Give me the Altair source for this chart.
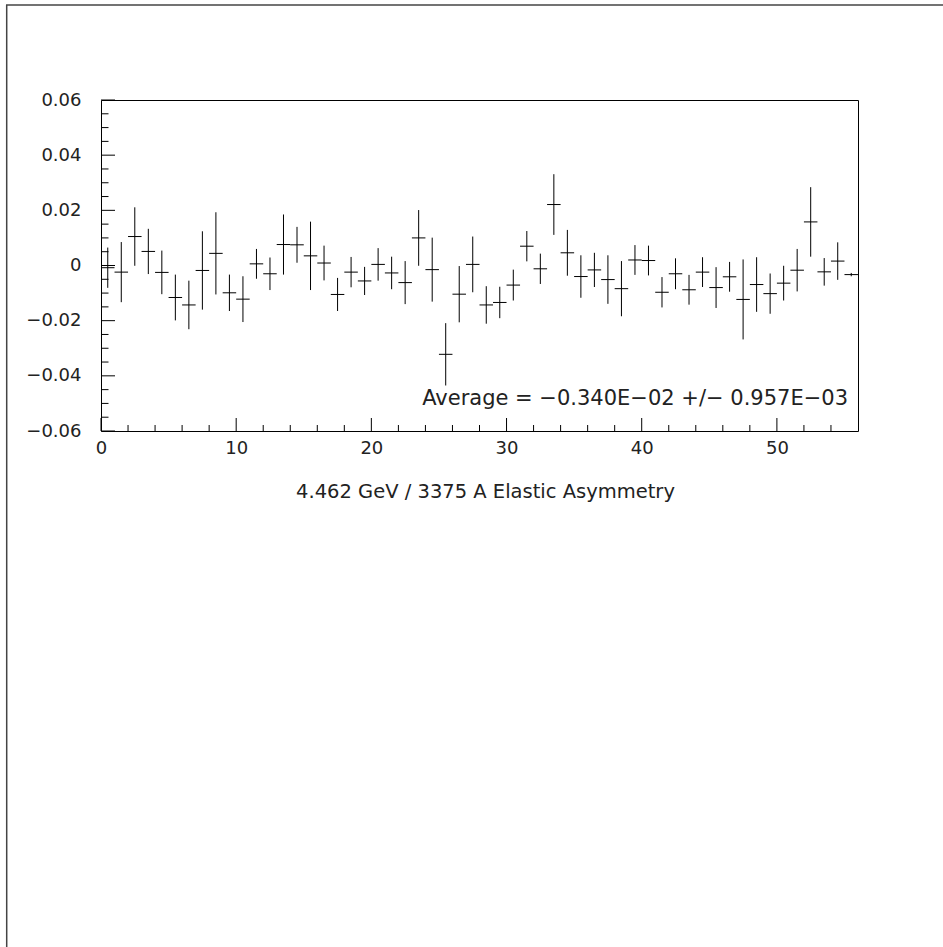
import altair as alt
import pandas as pd

# ---- data ----
bins = list(range(56))
asym = [-0.0008, -0.0024, 0.0105, 0.0051, -0.0025, -0.0116, -0.0143, -0.0018, 0.0044, -0.0099,
        -0.0122, 0.0006, -0.0030, 0.0076, 0.0075, 0.0035, 0.0009, -0.0105, -0.0024, -0.0056,
        0.0004, -0.0027, -0.0062, 0.0100, -0.0015, -0.0322, -0.0104, 0.0004, -0.0143, -0.0134,
        -0.0071, 0.0070, -0.0012, 0.0221, 0.0046, -0.0040, -0.0016, -0.0051, -0.0084, 0.0020,
        0.0018, -0.0097, -0.0030, -0.0088, -0.0024, -0.0080, -0.0041, -0.0123, -0.0069, -0.0102,
        -0.0064, -0.0017, 0.0158, -0.0023, 0.0016, -0.0033]
errs = [0.0073, 0.0109, 0.0106, 0.0082, 0.0079, 0.0083, 0.0088, 0.0142, 0.0149, 0.0066,
        0.0083, 0.0054, 0.0059, 0.0109, 0.0065, 0.0124, 0.0063, 0.0060, 0.0055, 0.0051,
        0.0059, 0.0059, 0.0078, 0.0101, 0.0116, 0.0113, 0.0102, 0.0101, 0.0068, 0.0057,
        0.0056, 0.0055, 0.0055, 0.0110, 0.0083, 0.0077, 0.0062, 0.0088, 0.0100, 0.0054,
        0.0054, 0.0055, 0.0056, 0.0054, 0.0054, 0.0074, 0.0054, 0.0145, 0.0099, 0.0073,
        0.0063, 0.0077, 0.0126, 0.0050, 0.0068, 0.0006]

y_major = [-0.06, -0.04, -0.02, 0, 0.02, 0.04, 0.06]
y_minor = [-0.055, -0.05, -0.045, -0.035, -0.03, -0.025, -0.015, -0.01, -0.005,
           0.005, 0.01, 0.015, 0.025, 0.03, 0.035, 0.045, 0.05, 0.055]
x_major = [0, 10, 20, 30, 40, 50]
x_minor = [2, 4, 6, 8, 12, 14, 16, 18, 22, 24, 26, 28, 32, 34, 36, 38,
           42, 44, 46, 48, 52, 54]

x_title = "4.462 GeV / 3375 A Elastic Asymmetry"
avg_text = "Average =  \u22120.340E\u221202 +/\u2212 0.957E\u221203"

FONT = "DejaVu Sans"
TXT = "#222222"
W, H = 757, 331

df = pd.DataFrame({"bin": bins, "asym": asym, "err": errs})
xs = alt.Scale(domain=[0, 56], nice=False, zero=False)
ys = alt.Scale(domain=[-0.06, 0.06], nice=False, zero=False)

x_axis = alt.Axis(values=x_major, format="d", ticks=False, tickSize=0, domain=False,
                  grid=False, labelFont=FONT, labelFontSize=18, labelColor=TXT,
                  labelPadding=22, labelBaseline="alphabetic", labelFlush=False,
                  labelOverlap=False, title=x_title, titleFont=FONT, titleFontSize=19.5,
                  titleFontWeight="normal", titleColor=TXT, titleX=384, titleY=66,
                  titleBaseline="alphabetic", titleAlign="center", titleAnchor="start")
y_axis = alt.Axis(values=y_major, format=".2~f", ticks=False, tickSize=0, domain=False,
                  grid=False, labelFont=FONT, labelFontSize=18, labelColor=TXT,
                  labelPadding=20, labelBaseline="middle", labelFlush=False,
                  labelOverlap=False, title=None)


def X(field):
    return alt.X(field, scale=xs, axis=x_axis)


def Y(field):
    return alt.Y(field, scale=ys, axis=y_axis)


base = alt.Chart(df).transform_calculate(
    lo="datum.asym - datum.err",
    hi="datum.asym + datum.err",
    xl="datum.bin",
    xr="datum.bin + 1",
    xc="datum.bin + 0.5",
)

vbar = base.mark_rule(color="black", strokeWidth=1).encode(
    x=X("xc:Q"), y=Y("lo:Q"), y2="hi:Q")
hbar = base.mark_rule(color="black", strokeWidth=1).encode(
    x=X("xl:Q"), x2="xr:Q", y=Y("asym:Q"))

ymaj = alt.Chart(pd.DataFrame({"v": y_major})).mark_rule(color="black").encode(
    y=Y("v:Q"), x=alt.value(0), x2=alt.value(14))
ymin = alt.Chart(pd.DataFrame({"v": y_minor})).mark_rule(color="black").encode(
    y=Y("v:Q"), x=alt.value(0), x2=alt.value(7.5))
xmaj = alt.Chart(pd.DataFrame({"v": x_major})).mark_rule(color="black").encode(
    x=X("v:Q"), y=alt.value(H), y2=alt.value(H - 13))
xmin = alt.Chart(pd.DataFrame({"v": x_minor})).mark_rule(color="black").encode(
    x=X("v:Q"), y=alt.value(H), y2=alt.value(H - 6))

one = alt.Chart(pd.DataFrame({"a": [0]}))
avg = one.mark_text(align="right", baseline="alphabetic", font=FONT, fontSize=21,
                    color=TXT).encode(x=alt.value(747), y=alt.value(305),
                                      text=alt.value(avg_text))
frame_left = one.mark_rule(color="#444444", strokeWidth=1.5).encode(
    x=alt.value(-94.3), y=alt.value(-95), y2=alt.value(847))
frame_top = one.mark_rule(color="#444444", strokeWidth=1.5).encode(
    y=alt.value(-95), x=alt.value(-95), x2=alt.value(842))

chart = alt.layer(vbar, hbar, ymaj, ymin, xmaj, xmin, avg, frame_left, frame_top).properties(
    width=W, height=H,
    autosize=alt.AutoSizeParams(type="none"),
    padding={"left": 101, "top": 100, "right": 85, "bottom": 516},
    background="white",
).configure_view(stroke="black", strokeWidth=1)

chart.save("out.html", embed_options={"renderer": "svg", "actions": False})
